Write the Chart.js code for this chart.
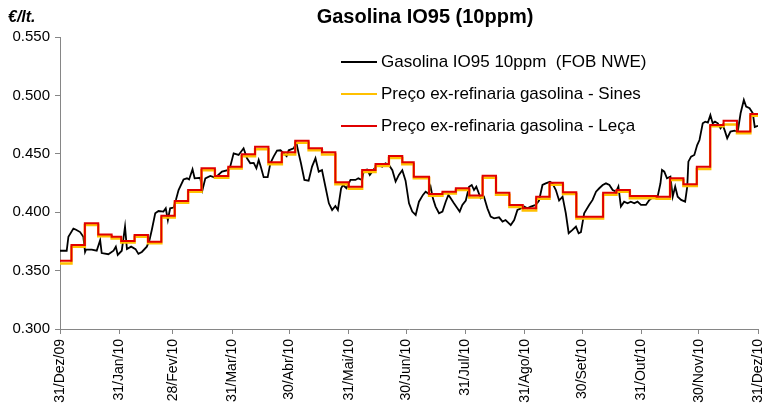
<!DOCTYPE html>
<html>
<head>
<meta charset="utf-8">
<script src="https://cdn.jsdelivr.net/npm/chart.js@4.4.0/dist/chart.umd.min.js"></script>
<style>
  body { margin: 0; background: #fff; }
  canvas { display: block; }
</style>
</head>
<body>
<canvas id="chart" width="764" height="409"></canvas>
<script>
// days counted from 31/Dez/09
const monthDays = [0, 31, 59, 90, 120, 151, 181, 212, 243, 273, 304, 334, 365];
const monthLabels = ['31/Dez/09', '31/Jan/10', '28/Fev/10', '31/Mar/10', '30/Abr/10', '31/Mai/10',
  '30/Jun/10', '31/Jul/10', '31/Ago/10', '30/Set/10', '31/Out/10', '30/Nov/10', '31/Dez/10'];

const seriesNames = ['Gasolina IO95 10ppm  (FOB NWE)', 'Preço ex-refinaria gasolina - Sines', 'Preço ex-refinaria gasolina - Leça'];

const fobDays = [0, 3.5, 4.4, 7, 8.4, 10.5, 12.2, 13.1, 13.6, 16.6, 19.2, 21, 21.8, 25.3, 28, 29.2, 30.2, 32.3, 34, 35,
  37.2, 39.5, 41, 42.8, 45.4, 46.8, 48, 49.8, 51.5, 54.1, 55.3, 56.4, 57.6, 59.4, 60.6, 62, 64.6, 66.4, 67.5, 69.3,
  70.4, 73.3, 74.5, 76, 78.6, 81.2, 84.7, 88.2, 89, 90.8, 93.4, 96, 97.8, 99.5, 101.3, 102.7, 103.9, 105, 106.5, 108.6,
  110, 111.7, 113.5, 115.3, 117, 118.5, 119.6, 122.2, 123.6, 124.8, 126, 127.8, 130, 131.8, 133.6, 135.3, 137, 138.8, 140.6, 142.3,
  144, 145.3, 147, 148, 149.8, 151.9, 154.5, 156, 158, 158.9, 160.6, 162, 163.8, 165.9, 168.5, 170.2, 172, 173.8, 175.5, 177.2,
  179, 180.7, 182.5, 184.2, 186, 187.7, 189.8, 191.2, 192.6, 193.8, 195, 196.4, 198.2, 200, 201.7, 203.1, 204.3, 206, 207.8, 209,
  210.4, 212.2, 213.9, 215.3, 216.5, 217.7, 220, 221.7, 223.5, 225.2, 227, 229.6, 231.4, 233, 235.7, 237.5, 239.2, 241, 242.7, 244.4,
  246.2, 248.8, 250.5, 252.3, 254, 256.2, 257.5, 259.3, 261, 262.8, 264.5, 266, 268, 269.8, 271.2, 272.4, 274.1, 276.7, 278.5, 280.3,
  282, 283.8, 285.5, 287.3, 289, 290.8, 292, 293.3, 295, 296.8, 298.5, 300.3, 302, 303.8, 306.4, 308.2, 309.9, 312.5, 314, 314.8,
  316, 317.4, 319.2, 320.4, 321.7, 323, 324.8, 326.9, 328, 328.6, 330, 331.7, 333.2, 334.4, 336.1, 337.4, 338.8, 340.1, 341.3, 342.5,
  344, 345.4, 346.6, 347.8, 348.9, 350.6, 352.7, 354.4, 355.9, 357.6, 358.8, 360.6, 362.3, 363.3, 365];
const fobValues = [0.367, 0.367, 0.379, 0.386, 0.385, 0.383, 0.379, 0.366, 0.368, 0.368, 0.367, 0.376, 0.365, 0.364, 0.367, 0.3705, 0.3634, 0.367, 0.3876, 0.3684,
  0.3705, 0.3684, 0.3643, 0.366, 0.3705, 0.3762, 0.3848, 0.399, 0.401, 0.4005, 0.4033, 0.3933, 0.4033, 0.404, 0.4105, 0.419, 0.428, 0.429, 0.428, 0.4367,
  0.429, 0.4295, 0.419, 0.429, 0.431, 0.4296, 0.4347, 0.4362, 0.439, 0.4504, 0.449, 0.4547, 0.4462, 0.4419, 0.4422, 0.4376, 0.4447, 0.439, 0.430, 0.430,
  0.4419, 0.4476, 0.4527, 0.453, 0.4504, 0.448, 0.453, 0.4547, 0.4595, 0.4504, 0.4419, 0.4276, 0.427, 0.439, 0.4462, 0.4347, 0.436, 0.4218, 0.4076, 0.4019,
  0.4053, 0.4019, 0.4205, 0.4233, 0.4205, 0.4276, 0.4276, 0.429, 0.4276, 0.436, 0.4366, 0.4319, 0.436, 0.4404, 0.439, 0.4419, 0.4404, 0.436, 0.4262, 0.4319,
  0.436, 0.427, 0.4076, 0.4005, 0.3976, 0.409, 0.4148, 0.4176, 0.416, 0.4218, 0.4119, 0.4048, 0.3991, 0.4005, 0.409, 0.4148, 0.4119, 0.4076, 0.4033, 0.4005,
  0.4062, 0.41, 0.4218, 0.4233, 0.419, 0.4218, 0.4119, 0.4133, 0.4033, 0.3962, 0.3948, 0.3956, 0.3919, 0.3933, 0.389, 0.3933, 0.4019, 0.4033, 0.4048, 0.4033,
  0.4048, 0.4062, 0.41, 0.4233, 0.4247, 0.426, 0.4247, 0.419, 0.41, 0.4133, 0.3991, 0.382, 0.3848, 0.3876, 0.382, 0.383, 0.3991, 0.4062, 0.4105, 0.4176,
  0.4205, 0.4233, 0.4247, 0.4233, 0.419, 0.4176, 0.4219, 0.4048, 0.409, 0.4076, 0.409, 0.4076, 0.409, 0.4062, 0.4062, 0.4105, 0.4128, 0.4133, 0.4248, 0.4362,
  0.4347, 0.429, 0.4304, 0.4133, 0.4219, 0.4133, 0.4105, 0.409, 0.4219, 0.4433, 0.4476, 0.449, 0.4575, 0.4618, 0.4761, 0.4775, 0.4767, 0.4832, 0.4761, 0.4775,
  0.4761, 0.4718, 0.4747, 0.469, 0.4633, 0.469, 0.4698, 0.469, 0.4847, 0.4961, 0.4904, 0.489, 0.4847, 0.473, 0.474];

// weekly price changes (day the new price starts)
const priceDays = [0, 6, 13, 20, 27, 32, 39, 46, 53, 60, 67, 74, 81, 88, 95, 102, 109, 116, 123, 130,
  137, 144, 151, 158, 165, 172, 179, 185, 193, 200, 207, 214, 221, 228, 235, 242, 249, 256, 263, 270,
  284, 291, 298, 312, 319, 326, 333, 340, 347, 354, 361, 365];
const sinesValues = [0.3560, 0.3705, 0.3890, 0.3795, 0.3775, 0.3740, 0.3790, 0.3735, 0.3955, 0.4080,
  0.4175, 0.4360, 0.4295, 0.4375, 0.4480, 0.4540, 0.4410, 0.4495, 0.4595, 0.4530,
  0.4495, 0.4240, 0.4200, 0.4345, 0.4395, 0.4465, 0.4410, 0.4290, 0.4140, 0.4160,
  0.4190, 0.4125, 0.4295, 0.4150, 0.4045, 0.4015, 0.4115, 0.4235, 0.4155, 0.3945,
  0.4150, 0.4175, 0.4120, 0.4115, 0.4275, 0.4225, 0.4370, 0.4735, 0.4750, 0.4675,
  0.4825, 0.4825];
const lecaValues = [0.3585, 0.372, 0.3905, 0.381, 0.379, 0.3754, 0.3805, 0.3748, 0.397, 0.4096,
  0.419, 0.4376, 0.431, 0.439, 0.4496, 0.456, 0.4427, 0.4513, 0.4612, 0.4547,
  0.4513, 0.4256, 0.4218, 0.4362, 0.4413, 0.4482, 0.4427, 0.4304, 0.4156, 0.4176,
  0.4205, 0.4142, 0.4313, 0.4167, 0.4062, 0.4034, 0.4133, 0.4253, 0.417, 0.3962,
  0.4167, 0.419, 0.4139, 0.4133, 0.429, 0.424, 0.439, 0.4747, 0.4782, 0.469,
  0.484, 0.484];

const colors = ['#000000', '#FFC000', '#E00000'];
const FONT = '"Liberation Sans", Arial, sans-serif';

function toPoints(xs, ys) {
  return xs.map((x, i) => ({ x: x, y: ys[i] }));
}

const decorPlugin = {
  id: 'decor',
  afterDraw(chart) {
    const ctx = chart.ctx;
    ctx.save();
    ctx.fillStyle = '#000';
    ctx.textBaseline = 'middle';
    ctx.textAlign = 'center';
    ctx.font = 'bold 20px ' + FONT;
    ctx.fillText('Gasolina IO95 (10ppm)', 425, 17);
    ctx.textAlign = 'left';
    ctx.font = 'italic bold 16px ' + FONT;
    ctx.fillText('€/lt.', 8, 18);

    // legend inside the plot
    ctx.font = '17px ' + FONT;
    seriesNames.forEach((name, i) => {
      const y = 62 + i * 32;
      ctx.strokeStyle = colors[i];
      ctx.lineWidth = 2;
      ctx.beginPath();
      ctx.moveTo(341, y);
      ctx.lineTo(377, y);
      ctx.stroke();
      ctx.fillStyle = '#000';
      ctx.fillText(name, 381, y);
    });
    ctx.restore();
  }
};

new Chart(document.getElementById('chart'), {
  type: 'line',
  data: {
    datasets: [{
      label: seriesNames[0],
      data: toPoints(fobDays, fobValues),
      borderColor: colors[0],
      borderWidth: 1.8,
      order: 3
    }, {
      label: seriesNames[1],
      data: toPoints(priceDays, sinesValues),
      borderColor: colors[1],
      borderWidth: 2.5,
      stepped: true,
      order: 2
    }, {
      label: seriesNames[2],
      data: toPoints(priceDays, lecaValues),
      borderColor: colors[2],
      borderWidth: 2,
      stepped: true,
      order: 1
    }]
  },
  options: {
    responsive: false,
    animation: false,
    layout: { padding: { left: 0, right: 6, top: 37, bottom: 0 } },
    elements: { point: { radius: 0 }, line: { tension: 0, fill: false } },
    plugins: { legend: { display: false }, tooltip: { enabled: false } },
    scales: {
      x: {
        type: 'linear',
        min: 0,
        max: 365,
        afterBuildTicks: (scale) => { scale.ticks = monthDays.map(v => ({ value: v })); },
        afterFit: (scale) => {
          scale.height = 80;
          scale.paddingLeft = 0;
          scale.paddingRight = 0;
        },
        ticks: {
          minRotation: 90,
          maxRotation: 90,
          padding: 5,
          color: '#000',
          font: { family: FONT, size: 14 },
          callback: (v) => monthLabels[monthDays.indexOf(v)]
        },
        grid: { drawOnChartArea: false, tickLength: 5, color: '#868686' },
        border: { color: '#868686', width: 1 }
      },
      y: {
        min: 0.3,
        max: 0.55,
        afterFit: (scale) => { scale.width = 60; },
        ticks: {
          stepSize: 0.05,
          padding: 5,
          color: '#000',
          font: { family: FONT, size: 15 },
          callback: (v) => v.toFixed(3)
        },
        grid: { drawOnChartArea: false, tickLength: 5, color: '#868686' },
        border: { color: '#868686', width: 1 }
      }
    }
  },
  plugins: [decorPlugin]
});
</script>
</body>
</html>
